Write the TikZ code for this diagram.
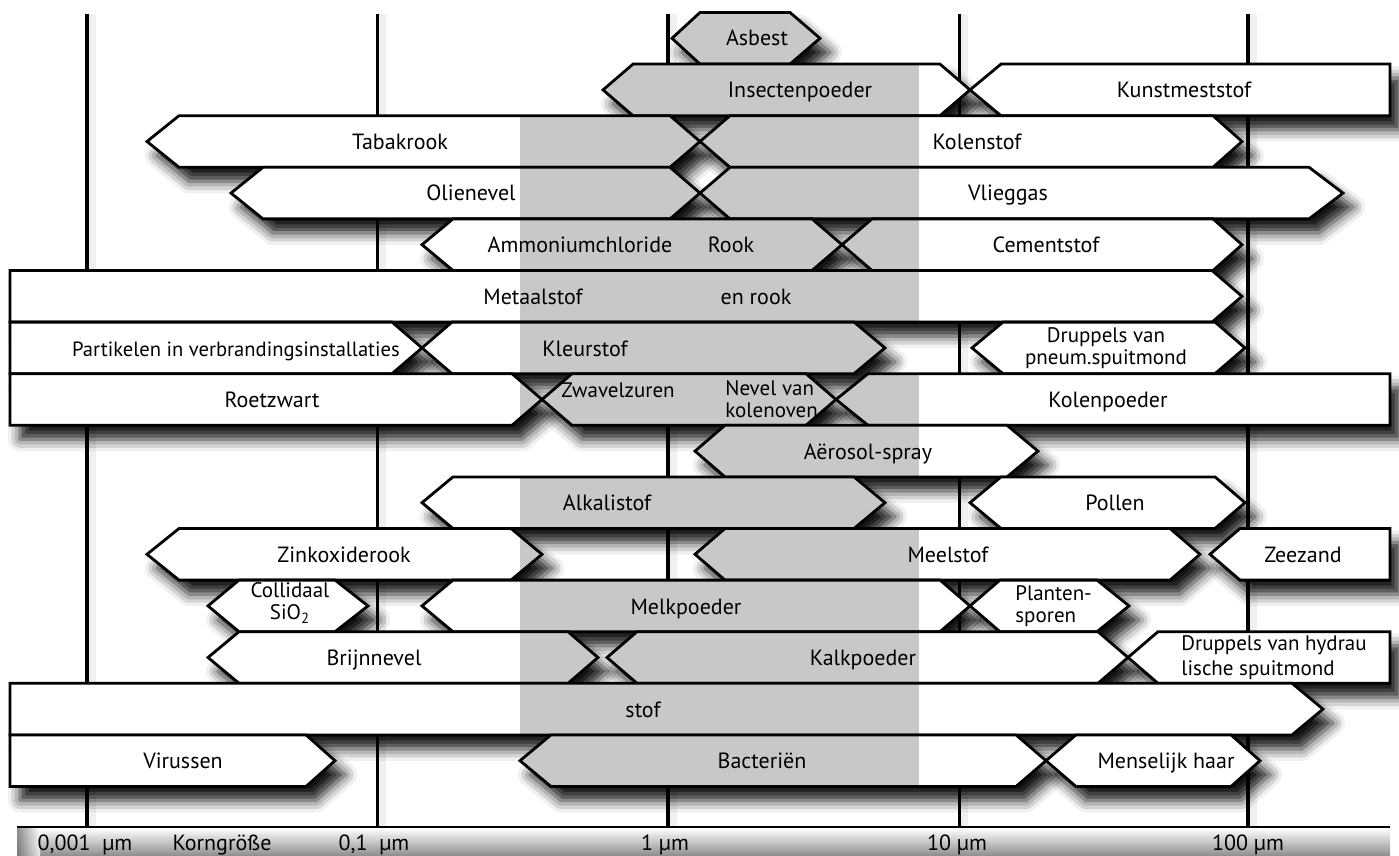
\documentclass[tikz,border=0pt]{standalone}
\usepackage{fontspec}
\setmainfont{PT Sans}
\usepackage{tikz}
\usetikzlibrary{shadows.blur}

\definecolor{bandgrey}{RGB}{199,200,201}

% row / left x / left tip / right x / right tip
\def\barlist{0/672/28/820/30, 1/603/30/970/30, 1/970/31/1390/0,
  2/147/32/700/30, 2/700/30/1242/29, 3/231/32/700/30, 3/700/30/1343/34,
  4/422/31/842/30, 4/842/30/1242/29, 5/10/0/1242/30,
  6/10/0/422/30, 6/422/30/885/31, 6/972/31/1245/30,
  7/10/0/542/30, 7/542/30/836/30, 7/836/32/1390/0, 8/695/30/1038/31,
  9/422/31/885/31, 9/970/31/1245/30,
  10/147/32/542/31, 10/695/30/1200/30, 10/1210/30/1390/0,
  11/208/31/368/33, 11/422/31/970/30, 11/970/30/1129/32,
  12/208/31/598/30, 12/607/30/1128/30, 12/1128/30/1390/0,
  13/10/0/1323/31, 14/10/0/335/29, 14/520/31/1046/30, 14/1046/30/1260/29}

\begin{document}
\begin{tikzpicture}[x=0.5pt, y=-0.5pt,
    barline/.style={line width=1.4pt, line join=miter},
    lab/.style={font=\fontsize{11}{11}\selectfont, inner sep=0pt, anchor=base},
    twoline/.style={font=\fontsize{10.5}{11}\selectfont, inner sep=0pt, align=#1},
    twoline/.default=center]
	\useasboundingbox (0,0) rectangle (1399,856);
	
	% Vertical lines of the size scale
	\foreach \x/\w in {87/2.2pt, 377/1.5pt, 668/1.6pt, 959/1.5pt, 1248/2.2pt} {
		\draw[line width=4pt, black, opacity=0.06] (\x+5,14) -- (\x+5,827);
		\draw[line width=\w] (\x,14) -- (\x,827);
	}
	
	% Shadows under the bars
	\foreach \r/\xl/\dl/\xr/\dr in \barlist {
		\pgfmathsetmacro\yt{12.5+51.6*\r}
		\pgfmathsetmacro\ym{\yt+25.8}
		\pgfmathsetmacro\yb{\yt+51.6}
		\path[blur shadow={shadow xshift=5pt, shadow yshift=-7pt, shadow blur radius=6pt, shadow opacity=92}]
			(\xl+\dl,\yt) -- (\xr-\dr,\yt) -- (\xr,\ym) -- (\xr-\dr,\yb) -- (\xl+\dl,\yb) -- (\xl,\ym) -- cycle;
	}
	
	% Bars, grey where they cross the 0.5--8 micron band
	\foreach \r/\xl/\dl/\xr/\dr in \barlist {
		\pgfmathsetmacro\yt{12.5+51.6*\r}
		\pgfmathsetmacro\ym{\yt+25.8}
		\pgfmathsetmacro\yb{\yt+51.6}
		\fill[white] (\xl+\dl,\yt) -- (\xr-\dr,\yt) -- (\xr,\ym) -- (\xr-\dr,\yb) -- (\xl+\dl,\yb) -- (\xl,\ym) -- cycle;
		\begin{scope}
			\clip (\xl+\dl,\yt) -- (\xr-\dr,\yt) -- (\xr,\ym) -- (\xr-\dr,\yb) -- (\xl+\dl,\yb) -- (\xl,\ym) -- cycle;
			\fill[bandgrey] (520,0) rectangle (919,856);
		\end{scope}
		\draw[barline] (\xl+\dl,\yt) -- (\xr-\dr,\yt) -- (\xr,\ym) -- (\xr-\dr,\yb) -- (\xl+\dl,\yb) -- (\xl,\ym) -- cycle;
	}
	
	% Labels
	\node[lab] (asbest) at (757,46) {Asbest};
	\node[lab] (insecten) at (800,98) {Insectenpoeder};
	\node[lab] (kunstmest) at (1184,98) {Kunstmeststof};
	\node[lab] (tabak) at (400,149.5) {Tabakrook};
	\node[lab] (kolenstof) at (977,149.5) {Kolenstof};
	\node[lab] (olie) at (471,201) {Olienevel};
	\node[lab] (vlieg) at (1008,201) {Vlieggas};
	\node[lab] (ammonium) at (580,252.5) {Ammoniumchloride};
	\node[lab] (rook) at (731,252.5) {Rook};
	\node[lab] (cement) at (1046,252.5) {Cementstof};
	\node[lab] (metaal) at (533,304) {Metaalstof};
	\node[lab] (enrook) at (756,304) {en rook};
	\node[lab, font=\fontsize{10.3}{11}\selectfont] (partikel) at (236,356) {Partikelen in verbrandingsinstallaties};
	\node[lab] (kleur) at (585,356) {Kleurstof};
	\node[twoline] (pneum) at (1106,347.9) {Druppels van\\pneum.spuitmond};
	\node[lab] (roet) at (272,407.5) {Roetzwart};
	\node[lab, font=\fontsize{10.5}{11}\selectfont] (zwavel) at (618,397) {Zwavelzuren};
	\node[twoline=left, anchor=west] (nevel) at (725,399.5) {Nevel van\\kolenoven};
	\node[lab] (kolenpoeder) at (1108,407.5) {Kolenpoeder};
	\node[lab] (aerosol) at (868,459) {Aërosol-spray};
	\node[lab] (alkali) at (607,510.5) {Alkalistof};
	\node[lab] (pollen) at (1115,510.5) {Pollen};
	\node[lab] (zink) at (344,562) {Zinkoxiderook};
	\node[lab] (meel) at (948,562) {Meelstof};
	\node[lab] (zeezand) at (1303,562) {Zeezand};
	\node[twoline] (sio) at (290,603) {Collidaal\\SiO\textsubscript{2}};
	\node[lab] (melk) at (686,614) {Melkpoeder};
	\node[twoline=left, anchor=west] (planten) at (1015,605.9) {Planten-\\sporen};
	\node[lab] (brijn) at (374,665.5) {Brijnnevel};
	\node[lab] (kalk) at (863,665.5) {Kalkpoeder};
	\node[twoline=left, anchor=west, font=\fontsize{10.5}{12.5}\selectfont] (hydrau) at (1181,657.5) {Druppels van hydrau\\lische spuitmond};
	\node[lab] (stof) at (643,717) {stof};
	\node[lab] (virus) at (183,768.5) {Virussen};
	\node[lab] (bacterie) at (762,768.5) {Bacteriën};
	\node[lab] (haar) at (1166,768.5) {Menselijk haar};
	
	% Size axis at the bottom
	\shade[top color=white, bottom color=black!45] (17,828) rectangle (1390,856);
	\shade[left color=black!55, right color=white, opacity=0.8] (17,828) rectangle (40,856);
	\draw[line width=1pt] (17,827) -- (1390,827);
	\node[lab] (s1) at (85,850) {0,001~~µm};
	\node[lab] (korn) at (222,850) {Korngröße};
	\node[lab] (s2) at (374,850) {0,1~~µm};
	\node[lab] (s3) at (665,850) {1 µm};
	\node[lab] (s4) at (957,850) {10 µm};
	\node[lab] (s5) at (1248,850) {100 µm};
\end{tikzpicture}
\end{document}
